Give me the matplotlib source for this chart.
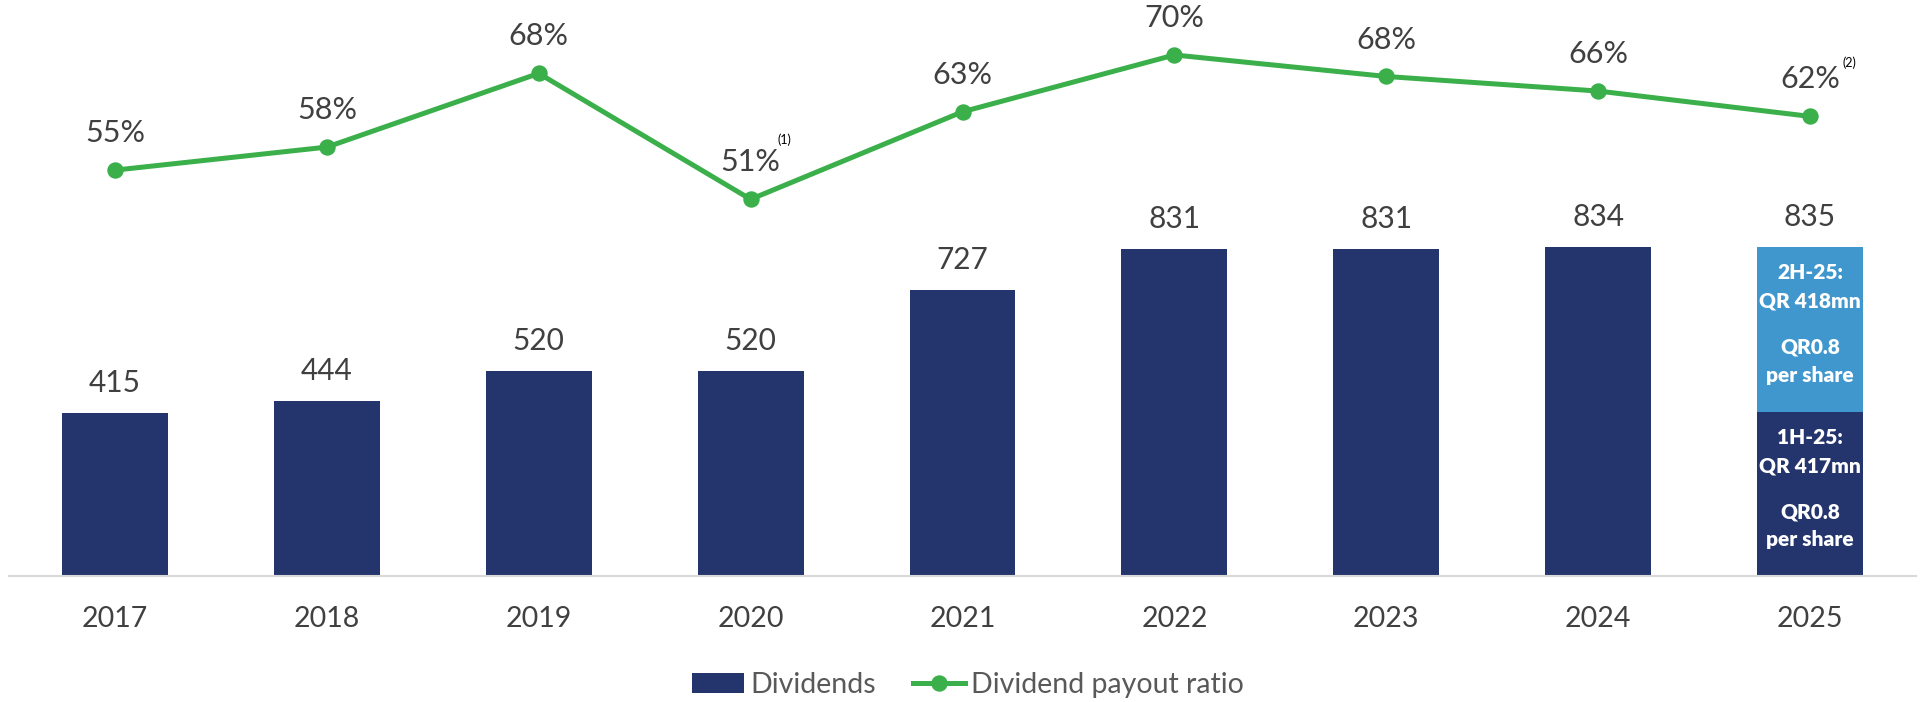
import matplotlib
matplotlib.use("Agg")
import matplotlib.pyplot as plt
from matplotlib.lines import Line2D
from matplotlib.patches import Patch

plt.rcParams['font.family'] = ['Lato', 'DejaVu Sans']

# ---- data ----
years = ["2017", "2018", "2019", "2020", "2021", "2022", "2023", "2024", "2025"]
dividends = [415, 444, 520, 520, 727, 831, 831, 834]      # 2017-2024 (QR mn)
div_2025_1h = 417
div_2025_2h = 418
div_2025_total = 835
payout_ratio = [55.0, 58.0, 67.6, 51.2, 62.6, 70.0, 67.2, 65.3, 62.0]
payout_labels = ["55%", "58%", "68%", "51%", "63%", "70%", "68%", "66%", "62%"]
footnotes = {3: "(1)", 8: "(2)"}
inner_2h = ["2H-25:", "QR 418mn", "QR0.8", "per share"]
inner_1h = ["1H-25:", "QR 417mn", "QR0.8", "per share"]

NAVY = "#24356E"
LIGHT = "#4097CD"
GREEN = "#3AAF4A"
TXT = "#404040"

fig = plt.figure(figsize=(19.26, 7.02), dpi=100)
ax = fig.add_axes([9/1926, 0.1788, 1907/1926, 0.8212])
x = list(range(len(years)))

# bars
ax.bar(x[:8], dividends, width=0.5, color=NAVY, zorder=2)
ax.bar(x[8], div_2025_1h, width=0.5, color=NAVY, zorder=2)
ax.bar(x[8], div_2025_2h, bottom=div_2025_1h, width=0.5, color=LIGHT, zorder=2)

ax.set_xlim(-0.5, 8.5)
ax.set_ylim(0, 1461)
for s in ["top", "right", "left"]:
    ax.spines[s].set_visible(False)
ax.spines["bottom"].set_color("#D9D9D9")
ax.spines["bottom"].set_linewidth(1.5)
ax.set_yticks([])
ax.set_xticks(x)
ax.set_xticklabels(years, fontsize=20.5, color=TXT)
ax.tick_params(axis='x', length=0, pad=21.5)

totals = dividends + [div_2025_total]
for i, v in enumerate(totals):
    ax.annotate(str(v), (i, v), xytext=(0, 21.6), textcoords="offset points",
                ha="center", va="center", fontsize=21.5, color=TXT)

# inner texts for 2025
offs = [18.7, 38.9, 72.0, 92.2]
for tops, lines in ((div_2025_total, inner_2h), (div_2025_1h, inner_1h)):
    for o, t in zip(offs, lines):
        ax.annotate(t, (8, tops), xytext=(0, -o), textcoords="offset points",
                    ha="center", va="center", fontsize=15, fontweight="heavy",
                    color="white", zorder=3)

# line
ax2 = ax.twinx()
ax2.set_ylim(2.07, 77.16)
ax2.axis("off")
ax2.plot(x, payout_ratio, color=GREEN, lw=3.6, marker="o", ms=10.8, zorder=4)
for i, (v, lab) in enumerate(zip(payout_ratio, payout_labels)):
    ax2.annotate(lab, (i, v), xytext=(0, 26.6), textcoords="offset points",
                 ha="center", va="center", fontsize=22, color=TXT)
    if i in footnotes:
        dx = 34 if i == 3 else 39
        dy = 60 if i == 3 else 54
        ax2.annotate(footnotes[i], (i, v), xytext=(dx / 1.3889, dy / 1.3889),
                     textcoords="offset points", ha="center", va="center",
                     fontsize=9, color="black")

# legend
handles = [Patch(facecolor=NAVY, edgecolor="none"),
           Line2D([0], [0], color=GREEN, lw=3.6, marker="o", ms=10.8)]
fig.legend(handles, ["Dividends", "Dividend payout ratio"], loc="center",
           bbox_to_anchor=(0.5025, 0.024), ncol=2, frameon=False, fontsize=20.5,
           handlelength=1.85, handletextpad=0.2, columnspacing=1.3,
           labelcolor="#595959")

fig.savefig("out.png", dpi=100)
